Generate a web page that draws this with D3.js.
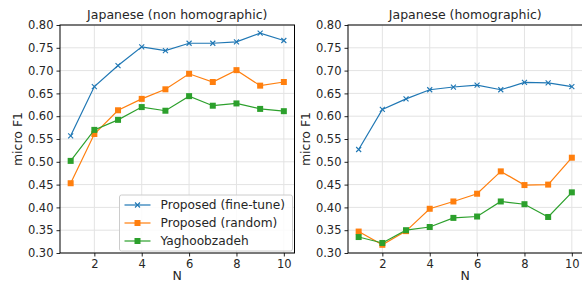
<!DOCTYPE html>
<html>
<head>
<meta charset="utf-8">
<script src="https://cdn.jsdelivr.net/npm/d3@7"></script>
<style>
  body { margin: 0; background: #fff; }
  svg { display: block; font-family: "DejaVu Sans", sans-serif; }
</style>
</head>
<body>
<svg id="chart" width="582" height="282"></svg>
<script>
var n_values = [1, 2, 3, 4, 5, 6, 7, 8, 9, 10];
var x_ticks = [2, 4, 6, 8, 10];
var y_ticks = [0.30, 0.35, 0.40, 0.45, 0.50, 0.55, 0.60, 0.65, 0.70, 0.75, 0.80];

var titles = ['Japanese (non homographic)', 'Japanese (homographic)'];
var series_names = ['Proposed (fine-tune)', 'Proposed (random)', 'Yaghoobzadeh'];
var series_colors = ['#1f77b4', '#ff7f0e', '#2ca02c'];
var series_markers = ['x', 'square', 'square'];

// left panel
var nonhomo_finetune = [0.557, 0.665, 0.711, 0.752, 0.744, 0.760, 0.760, 0.763, 0.782, 0.766];
var nonhomo_random = [0.453, 0.561, 0.613, 0.638, 0.659, 0.693, 0.675, 0.701, 0.667, 0.675];
var nonhomo_yag = [0.502, 0.570, 0.592, 0.620, 0.612, 0.644, 0.623, 0.628, 0.616, 0.611];

// right panel
var homo_finetune = [0.527, 0.615, 0.638, 0.658, 0.664, 0.668, 0.658, 0.674, 0.673, 0.665];
var homo_random = [0.347, 0.318, 0.348, 0.397, 0.413, 0.430, 0.479, 0.449, 0.450, 0.509];
var homo_yag = [0.335, 0.322, 0.350, 0.357, 0.377, 0.380, 0.413, 0.407, 0.379, 0.433];

var panels = [
   {x0: 60, title: titles[0], data: [nonhomo_finetune, nonhomo_random, nonhomo_yag], legend: true},
   {x0: 348, title: titles[1], data: [homo_finetune, homo_random, homo_yag], legend: false}
];

var svg = d3.select('#chart');
var top_ = 25, height = 228, width = 234.5;

panels.forEach(function(p){
   var x = d3.scaleLinear().domain([0.55, 10.45]).range([0, width]);
   var y = d3.scaleLinear().domain([0.30, 0.80]).range([height, 0]);
   var g = svg.append('g').attr('transform', 'translate(' + p.x0 + ',' + top_ + ')');

   // grid
   g.selectAll('.gx').data(x_ticks).enter().append('line')
      .attr('x1', function(d){ return x(d); }).attr('x2', function(d){ return x(d); })
      .attr('y1', 0).attr('y2', height)
      .attr('stroke', '#e3e3e3').attr('stroke-width', 1);
   g.selectAll('.gy').data(y_ticks).enter().append('line')
      .attr('x1', 0).attr('x2', width)
      .attr('y1', function(d){ return y(d); }).attr('y2', function(d){ return y(d); })
      .attr('stroke', '#e3e3e3').attr('stroke-width', 1);

   // axes
   var xa = g.append('g').attr('transform', 'translate(0,' + height + ')')
      .call(d3.axisBottom(x).tickValues(x_ticks).tickSize(3.5).tickPadding(3).tickFormat(d3.format('d')));
   var ya = g.append('g')
      .call(d3.axisLeft(y).tickValues(y_ticks).tickSize(3.5).tickPadding(3).tickFormat(d3.format('.2f')));
   [xa, ya].forEach(function(a){
      a.select('.domain').remove();
      a.selectAll('text').attr('font-size', 11.5).attr('fill', '#262626')
         .attr('font-family', '"DejaVu Sans", sans-serif');
      a.selectAll('line').attr('stroke', '#262626');
   });

   // data
   p.data.forEach(function(vals, si){
      var line = d3.line().x(function(d, i){ return x(n_values[i]); }).y(function(d){ return y(d); });
      g.append('path').datum(vals).attr('d', line)
         .attr('fill', 'none').attr('stroke', series_colors[si]).attr('stroke-width', 1.2);
      vals.forEach(function(v, i){
         drawMarker(g, x(n_values[i]), y(v), series_markers[si], series_colors[si]);
      });
   });

   // spines
   g.append('rect').attr('x', 0).attr('y', 0).attr('width', width).attr('height', height)
      .attr('fill', 'none').attr('stroke', '#000').attr('stroke-width', 1);

   // title and labels
   g.append('text').attr('x', width / 2).attr('y', -6).attr('text-anchor', 'middle')
      .attr('font-size', 12.5).attr('fill', '#262626').text(p.title);
   g.append('text').attr('x', width / 2).attr('y', height + 27).attr('text-anchor', 'middle')
      .attr('font-size', 12.5).attr('fill', '#262626').text('N');
   g.append('text').attr('transform', 'translate(-38,' + (height / 2) + ') rotate(-90)')
      .attr('text-anchor', 'middle').attr('font-size', 12.5).attr('fill', '#262626').text('micro F1');

   if (p.legend) {
      var lg = g.append('g').attr('transform', 'translate(' + (width - 175) + ',' + (height - 58) + ')');
      lg.append('rect').attr('width', 173).attr('height', 56).attr('rx', 2)
         .attr('fill', 'rgba(255,255,255,0.85)').attr('stroke', '#cccccc').attr('stroke-width', 1);
      series_names.forEach(function(name, si){
         var yy = 10 + si * 18;
         lg.append('line').attr('x1', 5).attr('x2', 31).attr('y1', yy).attr('y2', yy)
            .attr('stroke', series_colors[si]).attr('stroke-width', 1.2);
         drawMarker(lg, 18, yy, series_markers[si], series_colors[si]);
         lg.append('text').attr('x', 41).attr('y', yy + 4).attr('font-size', 12.2)
            .attr('fill', '#262626').text(name);
      });
   }
});

function drawMarker(g, cx, cy, type, color){
   if (type === 'x') {
      var r = 2.5;
      g.append('path').attr('d', 'M' + (cx - r) + ',' + (cy - r) + 'L' + (cx + r) + ',' + (cy + r) +
         'M' + (cx - r) + ',' + (cy + r) + 'L' + (cx + r) + ',' + (cy - r))
         .attr('stroke', color).attr('stroke-width', 1.1).attr('fill', 'none');
   } else {
      g.append('rect').attr('x', cx - 3).attr('y', cy - 3).attr('width', 6).attr('height', 6)
         .attr('fill', color);
   }
}
</script>
</body>
</html>
